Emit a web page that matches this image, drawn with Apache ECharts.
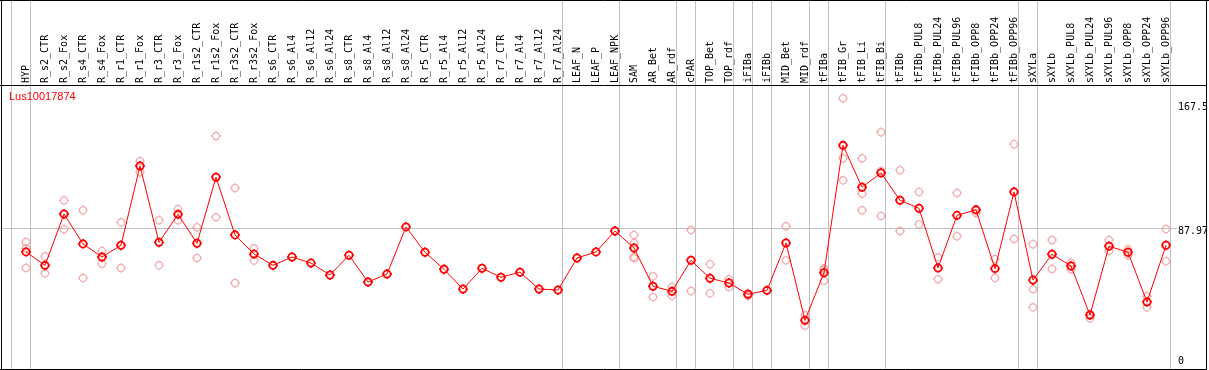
<!DOCTYPE html>
<html>
<head>
<meta charset="utf-8">
<script src="https://cdn.jsdelivr.net/npm/echarts@6/dist/echarts.min.js"></script>
<style>
html,body{margin:0;padding:0;background:#fff;}
#chart{width:1209px;height:370px;}
</style>
</head>
<body>
<div id="chart"></div>
<script>
const geneName = 'Lus10017874';

const categories = ['HYP','R_s2_CTR','R_s2_Fox','R_s4_CTR','R_s4_Fox','R_r1_CTR','R_r1_Fox','R_r3_CTR','R_r3_Fox',
  'R_r1s2_CTR','R_r1s2_Fox','R_r3s2_CTR','R_r3s2_Fox','R_s6_CTR','R_s6_Al4','R_s6_Al12','R_s6_Al24',
  'R_s8_CTR','R_s8_Al4','R_s8_Al12','R_s8_Al24','R_r5_CTR','R_r5_Al4','R_r5_Al12','R_r5_Al24',
  'R_r7_CTR','R_r7_Al4','R_r7_Al12','R_r7_Al24','LEAF_N','LEAF_P','LEAF_NPK','SAM','AR_Bet','AR_rdf',
  'cPAR','TOP_Bet','TOP_rdf','iFIBa','iFIBb','MID_Bet','MID_rdf','tFIBa','tFIB_Gr','tFIB_Li','tFIB_Bi',
  'tFIBb','tFIBb_PUL8','tFIBb_PUL24','tFIBb_PUL96','tFIBb_OPP8','tFIBb_OPP24','tFIBb_OPP96',
  'sXYLa','sXYLb','sXYLb_PUL8','sXYLb_PUL24','sXYLb_PUL96','sXYLb_OPP8','sXYLb_OPP24','sXYLb_OPP96'];

const meanValues = [73.5,65.3,96.7,78.4,70.4,77.6,126.1,79.4,96.5,78.8,119.2,83.9,72.2,
  65.3,70.4,66.7,59.4,71.5,55.1,60.0,88.8,73.3,62.9,50.8,63.5,58.0,61.1,50.8,50.2,
  69.8,73.5,86.3,75.9,52.5,49.4,68.4,57.4,54.5,47.6,50.0,79.0,31.7,60.8,
  138.7,113.1,121.8,105.1,100.2,63.7,95.9,99.2,63.3,110.2,56.3,72.1,64.9,34.9,77.0,73.3,42.9,77.6];

const replicateValues = [
  [79.6,75.7,63.7],[70.8,60.4],[105.1,87.4],[99.0,57.6],[74.1,66.3],[91.6,63.7],[129.1,122.2],
  [92.9,65.3],[99.8,92.9],[88.6,69.8],[144.4,94.7],[112.6,54.5],[75.7,68.2],
  [],[],[],[],[],[],[],[],[],[],[],[],[],[],[],[],[],[],[],
  [83.9,79.0,70.4,69.6],[58.6,45.9],[52.1,46.7],[86.9,49.6],[66.0,48.2],[56.8,52.1],[48.2,46.7],[],
  [89.2,68.4],[34.9,28.4],[63.5,62.5,55.9],[167.5,130.8,117.3],[130.8,109.1,99.0],[146.7,123.0,95.5],
  [123.5,86.3],[110.2,90.4],[70.2,56.8],[109.6,83.1],[99.8,97.3],[69.2,57.6],[139.4,81.4],
  [78.2,50.7,39.6],[80.8,63.1],[66.9,62.9],[35.4,32.9],[80.8,74.1],[75.1,71.5],[46.4,39.6],[87.5,67.8]];

// group separators: drawn after these category indices
const separatorsAfter = [-1,0,28,31,34,35,37,38,39,41,42,45,52,53,60];
const meanLineValue = 87.97;
const yTickLabels = ['167.5','87.97','0'];

// ring with four short ticks (circle drawn with cubic curves)
const r = 3.6, k = 0.5523 * 3.6, t = 4.9;
const marker = 'path://' +
  `M${r},0C${r},${k} ${k},${r} 0,${r}C${-k},${r} ${-r},${k} ${-r},0C${-r},${-k} ${-k},${-r} 0,${-r}C${k},${-r} ${r},${-k} ${r},0Z` +
  `M0,${-r}L0,${-t}M0,${r}L0,${t}M${-r},0L${-t},0M${r},0L${t},0`;
const markerSize = 2 * t;

const meanData = meanValues.map((v, i) => [i, v]);
const repData = [];
replicateValues.forEach((arr, i) => arr.forEach(v => repData.push([i, v])));

const chart = echarts.init(document.getElementById('chart'), null, {renderer: 'canvas'});

const sepMarks = separatorsAfter.map(i => ({xAxis: i + 0.2368}));

const option = {
  animation: false,
  backgroundColor: '#fff',
  title: {
    text: geneName, left: 9, top: 91, padding: 0,
    textStyle: {color: '#ff0000', fontSize: 11, fontWeight: 'normal', fontFamily: 'Liberation Sans'}
  },
  grid: [
    {left: 2, right: 32, top: 0, bottom: 1},
    {left: 16.5, right: 33.5, top: 85, height: 1}
  ],
  xAxis: [
    {type: 'value', gridIndex: 0, min: -24 / 19, max: 1151 / 19, show: false},
    {type: 'category', gridIndex: 1, data: categories, position: 'top', boundaryGap: true,
      axisLine: {show: false}, axisTick: {show: false}, splitLine: {show: false},
      axisLabel: {rotate: 90, margin: 2, interval: 0, fontSize: 10, fontFamily: 'DejaVu Sans Mono', color: '#000'}}
  ],
  yAxis: [
    {type: 'value', gridIndex: 0, min: 1.9, max: 227.6, show: false},
    {type: 'value', gridIndex: 1, show: false}
  ],
  series: [
    {
      type: 'scatter', xAxisIndex: 0, yAxisIndex: 0, data: repData, z: 2,
      symbol: marker, symbolSize: markerSize,
      itemStyle: {color: 'rgba(0,0,0,0)', borderColor: '#f09c9c', borderWidth: 1.3},
      silent: true,
      markLine: {
        silent: true, symbol: 'none', z: 1,
        label: {show: false},
        lineStyle: {color: '#c0c0c0', width: 1, type: 'solid'},
        emphasis: {disabled: true},
        data: sepMarks.concat([{yAxis: meanLineValue}])
      }
    },
    {
      type: 'line', xAxisIndex: 0, yAxisIndex: 0, data: meanData, z: 3,
      symbol: marker, symbolSize: markerSize, showAllSymbol: true,
      lineStyle: {color: '#ff0000', width: 1},
      itemStyle: {color: 'rgba(0,0,0,0)', borderColor: '#ff0000', borderWidth: 1.8},
      silent: true
    }
  ],
  graphic: [
    {type: 'line', z: 100, shape: {x1: 0, y1: 0.5, x2: 1209, y2: 0.5}, style: {stroke: '#000', lineWidth: 1}},
    {type: 'line', z: 100, shape: {x1: 0, y1: 85.5, x2: 1207, y2: 85.5}, style: {stroke: '#000', lineWidth: 1}},
    {type: 'line', z: 100, shape: {x1: 0, y1: 369.5, x2: 1207, y2: 369.5}, style: {stroke: '#000', lineWidth: 1}},
    {type: 'line', z: 100, shape: {x1: 1.5, y1: 0, x2: 1.5, y2: 370}, style: {stroke: '#000', lineWidth: 1}},
    {type: 'line', z: 100, shape: {x1: 1206.5, y1: 0, x2: 1206.5, y2: 370}, style: {stroke: '#000', lineWidth: 1}},
    {type: 'text', left: 1178, top: 102.5, style: {text: yTickLabels[0], fill: '#000', font: '10px "DejaVu Sans Mono"'}},
    {type: 'text', left: 1178, top: 226.5, style: {text: yTickLabels[1], fill: '#000', font: '10px "DejaVu Sans Mono"'}},
    {type: 'text', left: 1178, top: 356.5, style: {text: yTickLabels[2], fill: '#000', font: '10px "DejaVu Sans Mono"'}}
  ]
};
chart.setOption(option);
</script>
</body>
</html>
